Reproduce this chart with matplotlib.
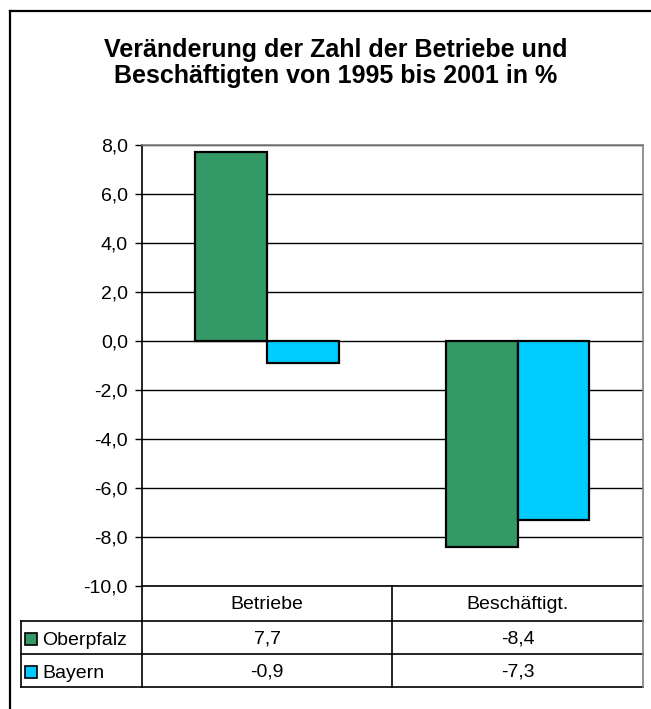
import numpy as np
import matplotlib
matplotlib.use("Agg")
import matplotlib.pyplot as plt
from matplotlib.lines import Line2D
from matplotlib.patches import Rectangle

plt.rcParams['font.family'] = ['Liberation Sans', 'DejaVu Sans']

# data
categories = ['Betriebe', 'Beschäftigt.']
series_names = ['Oberpfalz', 'Bayern']
oberpfalz = [7.7, -8.4]
bayern = [-0.9, -7.3]
colors = ['#339966', '#00CCFF']
yticks = [8.0, 6.0, 4.0, 2.0, 0.0, -2.0, -4.0, -6.0, -8.0, -10.0]

W, H = 651, 709
fig = plt.figure(figsize=(W / 100, H / 100), dpi=100)

def fx(px):
    return px / W

def fy(py):
    return 1 - py / H

# plot area in pixels
L, R, T, B = 141.7, 643.0, 144.7, 585.7
ax = fig.add_axes([fx(L), fy(B), fx(R) - fx(L), fy(T) - fy(B)])

x = np.arange(len(categories))
bw = 0.286
ax.bar(x - bw / 2, oberpfalz, bw, color=colors[0], edgecolor='black', linewidth=1.6, zorder=3)
ax.bar(x + bw / 2, bayern, bw, color=colors[1], edgecolor='black', linewidth=1.6, zorder=3)

ax.set_xlim(-0.5, len(categories) - 0.5)
ax.set_ylim(-10, 8)
ax.set_yticks(yticks)
ax.set_yticklabels([('%.1f' % v).replace('.', ',') for v in yticks], fontsize=14)
ax.set_xticks([])
ax.grid(axis='y', color='black', linewidth=1.0, zorder=0)
ax.tick_params(axis='y', length=5, width=1, pad=5, color='black')
ax.spines['left'].set_color('black')
ax.spines['bottom'].set_color('black')
ax.spines['top'].set_color('#808080')
ax.spines['right'].set_color('#808080')
for s in ax.spines.values():
    s.set_linewidth(1.2)

# title
fig.text(fx(336), fy(38), 'Veränderung der Zahl der Betriebe und\nBeschäftigten von 1995 bis 2001 in %',
         ha='center', va='top', fontsize=18, fontweight='bold', linespacing=1.1)

# data table below the axis
r0, r1, r2, r3 = B, 621.0, 654.3, 687.0
c0 = 20.7
cmid = (L + R) / 2

def hline(y, x0, x1, color='black', lw=1.2):
    fig.add_artist(Line2D([fx(x0), fx(x1)], [fy(y), fy(y)], color=color, linewidth=lw))

def vline(xp, y0, y1, color='black', lw=1.2):
    fig.add_artist(Line2D([fx(xp), fx(xp)], [fy(y0), fy(y1)], color=color, linewidth=lw))

hline(r1, c0, R)
hline(r2, c0, R)
hline(r3, c0, R)
vline(c0, r1, r3)
vline(L, r0, r3)
vline(cmid, r0, r3)
vline(R, r0, r3, color='#808080')

colw = (R - L) / len(categories)
for i, cat in enumerate(categories):
    cx = L + colw * (i + 0.5)
    fig.text(fx(cx), fy((r0 + r1) / 2 + 1), cat, ha='center', va='center', fontsize=14)
    for vals, (ya, yb) in zip([oberpfalz, bayern], [(r1, r2), (r2, r3)]):
        fig.text(fx(cx), fy((ya + yb) / 2 + 1), ('%.1f' % vals[i]).replace('.', ','),
                 ha='center', va='center', fontsize=14)

for name, col, (ya, yb) in zip(series_names, colors, [(r1, r2), (r2, r3)]):
    ym = (ya + yb) / 2 + 1
    fig.add_artist(Rectangle((fx(25), fy(ym + 6)), fx(12), 12 / H,
                             facecolor=col, edgecolor='black', linewidth=1.2))
    fig.text(fx(42), fy(ym), name, ha='left', va='center_baseline', fontsize=14)

# outer border (runs off the right and bottom edge)
hline(11, 10, W + 5, lw=1.6)
vline(10, 11, H + 5, lw=1.6)

fig.savefig('out.png', dpi=100)
